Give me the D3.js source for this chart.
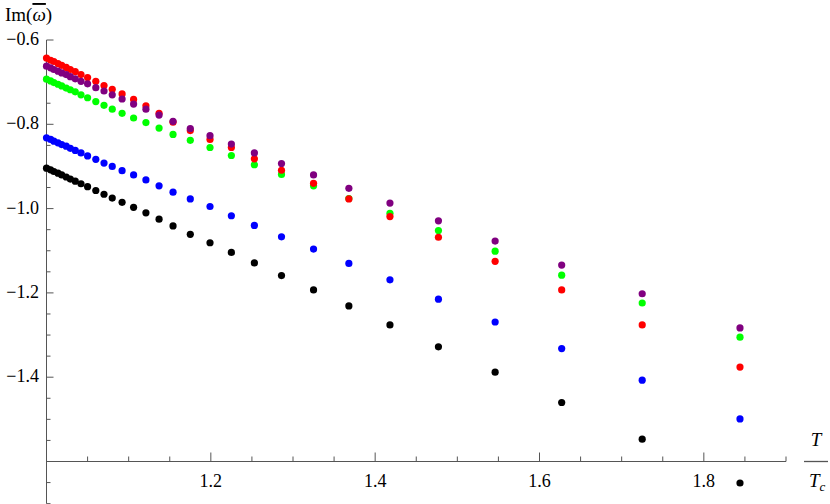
<!DOCTYPE html>
<html><head><meta charset="utf-8">
<script src="https://cdn.jsdelivr.net/npm/d3@7"></script>
<style>body{margin:0;background:#fff}text{font-family:"Liberation Serif","Times New Roman",serif}</style>
</head><body><svg id="c" width="830" height="504"></svg>
<script>
const tempRatio = [1.000,1.005,1.009,1.014,1.0185,1.024,1.029,1.035,1.042,1.050,1.060,1.070,1.080,1.092,1.106,1.121,1.137,1.154,1.175,1.199,1.225,1.253,1.286,1.325,1.368,1.418,1.477,1.546,1.627,1.725,1.844];
const blackVals = [-0.904,-0.908,-0.912,-0.916,-0.920,-0.925,-0.930,-0.935,-0.941,-0.948,-0.957,-0.966,-0.975,-0.985,-0.997,-1.010,-1.025,-1.041,-1.061,-1.081,-1.104,-1.129,-1.159,-1.193,-1.231,-1.276,-1.328,-1.388,-1.460,-1.547,-1.651];
const blueVals = [-0.832,-0.836,-0.840,-0.844,-0.848,-0.852,-0.857,-0.862,-0.868,-0.875,-0.883,-0.892,-0.900,-0.910,-0.920,-0.932,-0.946,-0.961,-0.977,-0.995,-1.017,-1.040,-1.067,-1.096,-1.130,-1.169,-1.215,-1.269,-1.332,-1.407,-1.499];
const greenVals = [-0.693,-0.697,-0.701,-0.705,-0.709,-0.714,-0.718,-0.723,-0.730,-0.737,-0.746,-0.755,-0.764,-0.774,-0.785,-0.796,-0.809,-0.824,-0.838,-0.855,-0.874,-0.896,-0.919,-0.946,-0.976,-1.011,-1.052,-1.101,-1.158,-1.224,-1.305];
const redVals = [-0.643,-0.648,-0.651,-0.656,-0.660,-0.665,-0.670,-0.675,-0.682,-0.689,-0.698,-0.708,-0.717,-0.728,-0.741,-0.756,-0.774,-0.795,-0.815,-0.836,-0.855,-0.882,-0.909,-0.940,-0.977,-1.019,-1.068,-1.125,-1.193,-1.276,-1.376];
const purpleVals = [-0.662,-0.666,-0.670,-0.674,-0.678,-0.682,-0.687,-0.692,-0.698,-0.704,-0.713,-0.721,-0.730,-0.740,-0.752,-0.764,-0.778,-0.793,-0.810,-0.827,-0.847,-0.868,-0.893,-0.920,-0.952,-0.987,-1.029,-1.077,-1.134,-1.202,-1.283];
const xTickLabels = [1.2,1.4,1.6,1.8];
const yTickLabels = [-0.6,-0.8,-1.0,-1.2,-1.4];

const series = [
  {vals: blackVals, color:"#000000"},
  {vals: blueVals, color:"#0000ff"},
  {vals: greenVals, color:"#00ff00"},
  {vals: redVals, color:"#ff0000"},
  {vals: purpleVals, color:"#800080"}
];
const svg = d3.select("#c");
const x = d3.scaleLinear().domain([1,1.9]).range([46.5,786]);
const y = d3.scaleLinear().domain([-1.6,-0.6]).range([461.5,40]);
const fmt = v => (v<0?"\u2212":"") + Math.abs(v).toFixed(1);
const axCol = "#555";

svg.append("line").attr("x1",x(1)).attr("x2",x(1)).attr("y1",y(-0.6)).attr("y2",y(-1.7)).attr("stroke",axCol);
const yMinor = d3.range(-0.6,-1.701,-0.05).map(v=>+v.toFixed(2));
svg.selectAll(".ym").data(yMinor).enter().append("line")
  .attr("x1",x(1)).attr("x2",d=>x(1)+(Math.abs(Math.round(d*100))%20===0?7:4))
  .attr("y1",d=>y(d)).attr("y2",d=>y(d)).attr("stroke",axCol);
svg.selectAll(".yl").data(yTickLabels).enter().append("text")
  .attr("x",39).attr("y",d=>y(d)+5).attr("text-anchor","end").attr("font-size",18).text(fmt);

svg.append("line").attr("x1",x(1)).attr("x2",x(1.9)).attr("y1",y(-1.6)).attr("y2",y(-1.6)).attr("stroke",axCol);
const xMinor = d3.range(1.05,1.901,0.05).map(v=>+v.toFixed(2));
svg.selectAll(".xm").data(xMinor).enter().append("line")
  .attr("x1",d=>x(d)).attr("x2",d=>x(d))
  .attr("y1",y(-1.6)).attr("y2",d=>y(-1.6)-(Math.round(d*100)%20===0?9:5)).attr("stroke",axCol);
svg.selectAll(".xl").data(xTickLabels).enter().append("text")
  .attr("x",d=>x(d)).attr("y",y(-1.6)+25).attr("text-anchor","middle").attr("font-size",18).text(d=>d.toFixed(1));

const yl = svg.append("text").attr("x",5).attr("y",21).attr("font-size",19);
yl.append("tspan").text("Im(");
yl.append("tspan").attr("font-style","italic").attr("text-decoration","overline").text("\u03C9");
yl.append("tspan").text(")");
svg.append("text").attr("x",816).attr("y",446).attr("text-anchor","middle").attr("font-size",19).attr("font-style","italic").text("T");
svg.append("line").attr("x1",804).attr("x2",828).attr("y1",461.5).attr("y2",461.5).attr("stroke","#555").attr("stroke-width",1.3);
const tc = svg.append("text").attr("x",809).attr("y",487).attr("font-size",19).attr("font-style","italic");
tc.append("tspan").text("T");
tc.append("tspan").attr("font-size",13).attr("dy",4).text("c");

series.forEach(s=>{
  svg.append("g").selectAll("circle").data(s.vals).enter().append("circle")
    .attr("cx",(d,i)=>x(tempRatio[i])).attr("cy",d=>y(d)).attr("r",3.6).attr("fill",s.color);
});
</script></body></html>
